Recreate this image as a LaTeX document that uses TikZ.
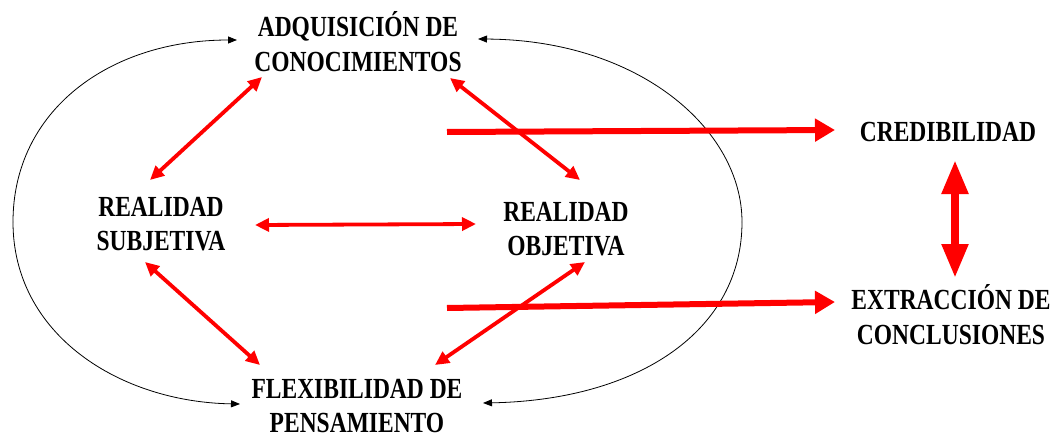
\documentclass[tikz,border=0pt]{standalone}
\usepackage{fontspec}
\setmainfont{Liberation Serif}
\usetikzlibrary{arrows.meta}
\newcommand\lbltxt[1]{\scalebox{1}[1.24]{\begin{tabular}{@{}c@{}}#1\end{tabular}}}
\begin{document}
\begin{tikzpicture}[x=1pt,y=-1pt,
  lbl/.style={font=\bfseries\fontsize{23.5}{28}\selectfont, inner sep=0pt},
  rarrow/.style={red, line width=3.8pt, {Triangle[length=14pt,width=13pt]}-{Triangle[length=14pt,width=13pt]}},
  bigarrow/.style={red, line width=6pt, -{Triangle[length=20pt,width=22pt]}},
  vdouble/.style={red, line width=8pt, {Triangle[length=34pt,width=25pt]}-{Triangle[length=34pt,width=25pt]}},
  cyclearc/.style={black, line width=0.8pt, -{Triangle[length=9pt,width=7pt]}}]
\fill[white] (0,0) rectangle (1063,436);
\useasboundingbox (0,0) rectangle (1063,436);

\node[lbl] (adq)  at (358,47)    {\lbltxt{ADQUISICIÓN DE\\CONOCIMIENTOS}};
\node[lbl] (subj) at (161,226.5) {\lbltxt{REALIDAD\\SUBJETIVA}};
\node[lbl] (obj)  at (566,231.5) {\lbltxt{REALIDAD\\OBJETIVA}};
\node[lbl] (flex) at (357,408.5) {\lbltxt{FLEXIBILIDAD DE\\PENSAMIENTO}};
\node[lbl] (cred) at (948,135)   {\lbltxt{CREDIBILIDAD}};
\node[lbl] (extr) at (951,320)   {\lbltxt{EXTRACCIÓN DE\\CONCLUSIONES}};

% connector end points
\coordinate (adqSW) at (262,77);
\coordinate (adqSE) at (450,78);
\coordinate (subjN) at (150,180);
\coordinate (subjE) at (255,225);
\coordinate (subjS) at (145,262);
\coordinate (objN)  at (580,180);
\coordinate (objW)  at (476,224);
\coordinate (objS)  at (585,262);
\coordinate (flexNW) at (260,365);
\coordinate (flexNE) at (435,365);
\coordinate (topL) at (237,40);
\coordinate (topR) at (478,39);
\coordinate (botL) at (240,404);
\coordinate (botR) at (483,403);
\coordinate (leftX) at (13,222);
\coordinate (rightX) at (742,222);
\coordinate (s1) at (447,132);
\coordinate (credW) at (835,130);
\coordinate (s2) at (447,308);
\coordinate (extrW) at (835,302);
\coordinate (credS) at (955,160);
\coordinate (extrN) at (955,278);

% black cycle arcs
\draw[cyclearc] (leftX) .. controls (13,110) and (110,40) .. (topL);
\draw[cyclearc] (leftX) .. controls (13,335) and (120,402) .. (botL);
\draw[cyclearc] (rightX) .. controls (742,130) and (640,40) .. (topR);
\draw[cyclearc] (rightX) .. controls (742,330) and (640,400) .. (botR);

% red arrows
\draw[rarrow] (adqSW) -- (subjN);
\draw[rarrow] (adqSE) -- (objN);
\draw[rarrow] (subjE) -- (objW);
\draw[rarrow] (subjS) -- (flexNW);
\draw[rarrow] (flexNE) -- (objS);
\draw[bigarrow] (s1) -- (credW);
\draw[bigarrow] (s2) -- (extrW);
\draw[vdouble] (credS) -- (extrN);
\end{tikzpicture}
\end{document}
